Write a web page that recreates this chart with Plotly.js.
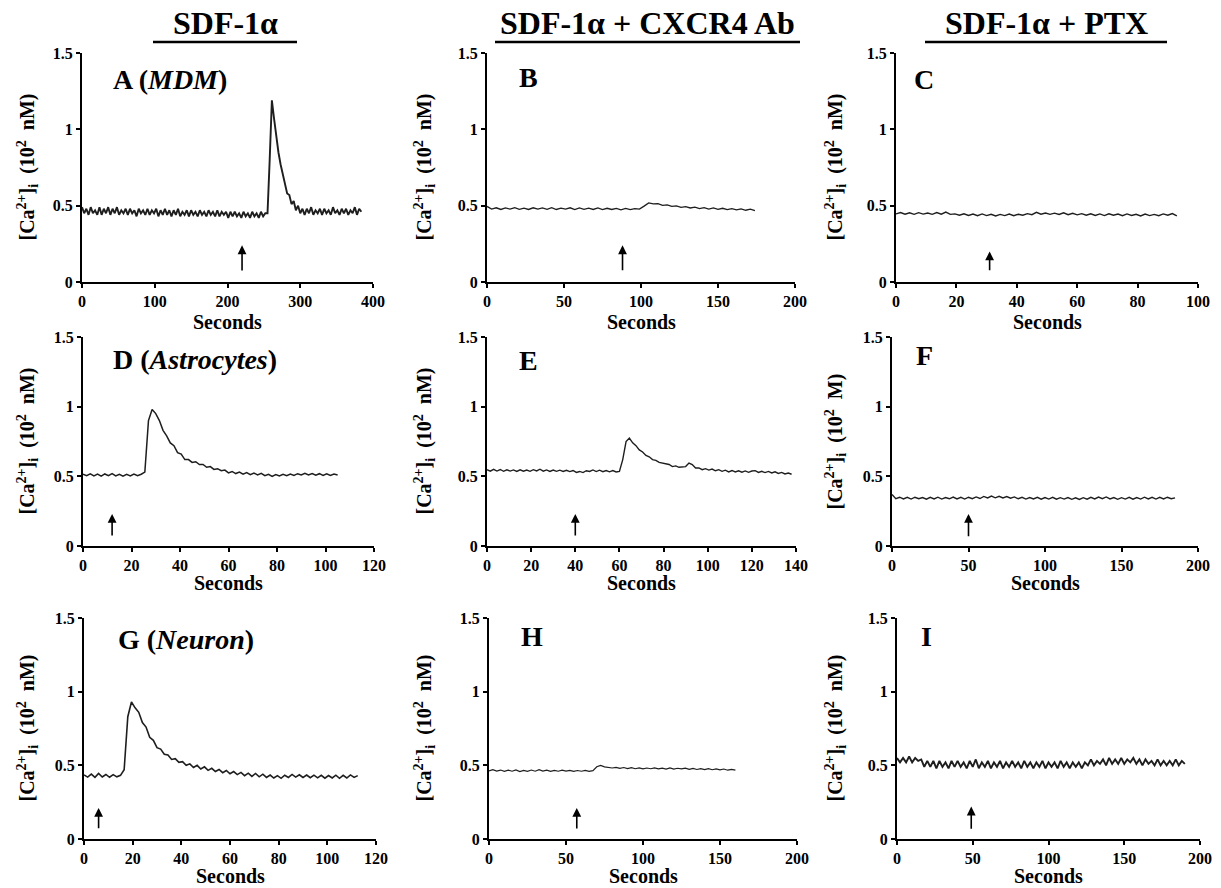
<!DOCTYPE html>
<html><head><meta charset="utf-8">
<script src="https://cdn.plot.ly/plotly-3.0.1.min.js"></script>
<style>html,body{margin:0;padding:0;background:#fff}#chart{width:1221px;height:888px}</style>
</head><body><div id="chart"></div>
<script>
// ---- data ----
const columnTitles = ['SDF-1α', 'SDF-1α + CXCR4 Ab', 'SDF-1α + PTX'];
const panelLabels = ['A (<i>MDM</i>)', 'B', 'C', 'D (<i>Astrocytes</i>)', 'E', 'F', 'G (<i>Neuron</i>)', 'H', 'I'];
const yTitles = [
  '[Ca<sup>2+</sup>]<sub>i</sub>  (10<sup>2</sup>  nM)', '[Ca<sup>2+</sup>]<sub>i</sub>  (10<sup>2</sup>  nM)', '[Ca<sup>2+</sup>]<sub>i</sub>  (10<sup>2</sup>  nM)',
  '[Ca<sup>2+</sup>]<sub>i</sub>  (10<sup>2</sup>  nM)', '[Ca<sup>2+</sup>]<sub>i</sub>  (10<sup>2</sup>  nM)', '[Ca<sup>2+</sup>]<sub>i</sub>  (10<sup>2</sup>  M)',
  '[Ca<sup>2+</sup>]<sub>i</sub>  (10<sup>2</sup>  nM)', '[Ca<sup>2+</sup>]<sub>i</sub>  (10<sup>2</sup>  nM)', '[Ca<sup>2+</sup>]<sub>i</sub>  (10<sup>2</sup>  nM)'
];
const xTitle = 'Seconds';
const xTickVals = [
  [0, 100, 200, 300, 400], [0, 50, 100, 150, 200], [0, 20, 40, 60, 80, 100],
  [0, 20, 40, 60, 80, 100, 120], [0, 20, 40, 60, 80, 100, 120, 140], [0, 50, 100, 150, 200],
  [0, 20, 40, 60, 80, 100, 120], [0, 50, 100, 150, 200], [0, 50, 100, 150, 200]
];
const yTickVals = [0, 0.5, 1, 1.5];
const yTickText = ['0', '0.5', '1', '1.5'];
// sampling of each trace (seconds)
const sampleStart = [0, 0, 0, 0, 0, 0, 0, 0, 0];
const sampleStep = [3, 3, 1.5, 1.5, 1.5, 2.5, 1.5, 2.5, 2];
// stimulus arrows: time, tip value, tail value
const arrowTime = [220, 88, 31, 12, 40, 50, 6, 57, 49];
const arrowTip = [0.24, 0.24, 0.2, 0.23, 0.23, 0.23, 0.21, 0.21, 0.22];
const arrowTail = [0.065, 0.067, 0.067, 0.065, 0.065, 0.06, 0.063, 0.061, 0.06];

const caA = [
  0.49,0.45,0.48,0.44,0.49,0.45,0.47,0.44,0.49,0.44,
  0.48,0.45,0.49,0.44,0.48,0.45,0.49,0.44,0.47,0.45,
  0.48,0.44,0.48,0.45,0.47,0.43,0.48,0.45,0.47,0.44,
  0.48,0.44,0.47,0.45,0.48,0.43,0.47,0.44,0.48,0.44,
  0.47,0.43,0.47,0.44,0.48,0.43,0.46,0.44,0.47,0.43,
  0.47,0.44,0.46,0.43,0.47,0.44,0.46,0.43,0.47,0.44,
  0.46,0.43,0.47,0.43,0.46,0.44,0.46,0.42,0.46,0.43,
  0.46,0.43,0.45,0.42,0.46,0.43,0.45,0.42,0.46,0.43,
  0.45,0.42,0.46,0.43,0.45,
  0.45,0.80,1.19,1.07,0.94,0.85,0.77,0.70,0.64,0.58,0.57,0.51,0.53,0.47,0.50,0.45,
  0.48,0.44,0.48,0.45,0.49,0.44,0.47,0.45,0.48,0.44,0.48,0.45,0.47,0.44,
  0.49,0.45,0.47,0.44,0.48,0.45,0.48,0.44,0.47,0.45,0.49,0.44,0.48,0.46
];
const caB = [
  0.495,0.478,0.486,0.475,0.485,0.477,0.487,0.476,0.484,0.475,
  0.486,0.477,0.485,0.476,0.487,0.475,0.484,0.477,0.486,0.474,
  0.485,0.476,0.484,0.475,0.485,0.474,0.483,0.475,0.482,0.473,
  0.482,0.474,0.481,0.478,0.497,0.518,0.512,0.513,0.502,0.505,
  0.495,0.499,0.489,0.494,0.485,0.490,0.481,0.487,0.478,0.485,
  0.476,0.483,0.474,0.481,0.472,0.479,0.470,0.477,0.468
];
const caC = [
  0.446,0.455,0.444,0.453,0.443,0.454,0.445,0.452,0.443,0.455,
  0.444,0.458,0.443,0.446,0.437,0.447,0.436,0.445,0.434,0.446,
  0.435,0.444,0.433,0.443,0.435,0.445,0.434,0.444,0.437,0.448,
  0.441,0.456,0.444,0.452,0.443,0.451,0.442,0.453,0.441,0.450,
  0.440,0.448,0.437,0.447,0.436,0.446,0.435,0.447,0.437,0.445,
  0.434,0.446,0.436,0.444,0.433,0.445,0.435,0.443,0.434,0.446,
  0.437,0.448,0.433
];
const caD = [
  0.515,0.505,0.518,0.503,0.516,0.502,0.517,0.505,0.519,0.503,
  0.515,0.501,0.514,0.503,0.516,0.504,0.515,
  0.53,0.90,0.98,0.95,0.90,0.83,0.79,0.74,0.72,0.67,
  0.66,0.62,0.62,0.60,0.605,0.585,0.585,0.565,0.57,0.55,
  0.555,0.54,0.545,0.525,0.535,0.52,0.53,0.515,0.527,0.512,
  0.524,0.51,0.522,0.505,0.515,0.50,0.512,0.502,0.514,0.505,
  0.517,0.507,0.519,0.51,0.522,0.51,0.52,0.508,0.519,0.507,
  0.518,0.507,0.517,0.51
];
const caE = [
  0.548,0.537,0.550,0.538,0.549,0.536,0.547,0.538,0.546,0.535,
  0.547,0.537,0.545,0.536,0.548,0.539,0.551,0.537,0.546,0.535,
  0.545,0.536,0.544,0.535,0.543,0.534,0.542,0.528,0.535,0.527,
  0.540,0.535,0.546,0.534,0.544,0.533,0.542,0.532,0.541,0.531,
  0.535,0.62,0.75,0.775,0.74,0.72,0.69,0.675,0.65,0.64,
  0.62,0.615,0.60,0.595,0.585,0.585,0.57,0.575,0.565,0.57,
  0.57,0.595,0.585,0.56,0.56,0.548,0.555,0.545,0.552,0.54,
  0.548,0.536,0.544,0.532,0.542,0.531,0.54,0.53,0.539,0.529,
  0.538,0.541,0.528,0.536,0.527,0.535,0.524,0.532,0.521,0.528,
  0.517,0.524,0.515
];
const caF = [
  0.370,0.340,0.350,0.338,0.349,0.337,0.350,0.339,0.348,0.336,
  0.349,0.338,0.350,0.337,0.348,0.339,0.351,0.338,0.349,0.337,
  0.350,0.340,0.352,0.341,0.356,0.345,0.358,0.346,0.357,0.345,
  0.355,0.343,0.352,0.339,0.349,0.337,0.348,0.338,0.349,0.336,
  0.348,0.337,0.349,0.336,0.347,0.337,0.348,0.335,0.346,0.334,
  0.347,0.336,0.349,0.338,0.351,0.340,0.352,0.338,0.348,0.335,
  0.347,0.337,0.349,0.336,0.348,0.337,0.350,0.338,0.349,0.337,
  0.349,0.338,0.350,0.339,0.345
];
const caG = [
  0.435,0.420,0.440,0.418,0.445,0.421,0.438,0.419,0.437,0.422,0.432,
  0.47,0.83,0.93,0.89,0.86,0.79,0.76,0.69,0.67,0.62,
  0.61,0.575,0.57,0.54,0.545,0.52,0.525,0.50,0.51,0.485,
  0.50,0.475,0.49,0.466,0.48,0.458,0.472,0.45,0.465,0.443,
  0.458,0.437,0.452,0.43,0.447,0.425,0.445,0.422,0.44,0.418,
  0.434,0.414,0.43,0.412,0.433,0.418,0.438,0.42,0.436,0.418,
  0.434,0.416,0.433,0.415,0.432,0.413,0.431,0.414,0.433,0.412,
  0.432,0.414,0.435,0.418,0.43
];
const caH = [
  0.462,0.470,0.461,0.468,0.459,0.467,0.460,0.469,0.458,0.466,
  0.459,0.468,0.460,0.470,0.461,0.467,0.459,0.466,0.460,0.467,
  0.461,0.466,0.459,0.465,0.460,0.466,0.459,0.464,
  0.49,0.50,0.49,0.488,0.482,0.486,0.479,0.485,0.478,0.484,
  0.477,0.483,0.476,0.482,0.477,0.483,0.476,0.481,0.475,0.482,
  0.474,0.48,0.476,0.481,0.473,0.479,0.472,0.478,0.471,0.477,
  0.47,0.476,0.469,0.475,0.467,0.473,0.468
];
const caI = [
  0.55,0.52,0.55,0.52,0.56,0.52,0.55,0.53,0.54,0.49,
  0.53,0.49,0.53,0.48,0.53,0.49,0.52,0.48,0.53,0.49,
  0.53,0.49,0.52,0.48,0.53,0.49,0.54,0.48,0.52,0.49,
  0.53,0.48,0.52,0.49,0.53,0.48,0.52,0.49,0.53,0.49,
  0.52,0.48,0.53,0.49,0.52,0.48,0.52,0.49,0.53,0.48,
  0.52,0.49,0.52,0.48,0.53,0.49,0.52,0.48,0.52,0.49,
  0.52,0.48,0.52,0.50,0.54,0.50,0.53,0.51,0.54,0.50,
  0.55,0.51,0.54,0.51,0.55,0.51,0.54,0.52,0.55,0.51,
  0.54,0.50,0.54,0.51,0.53,0.50,0.54,0.50,0.53,0.50,
  0.53,0.50,0.54,0.50,0.53,0.51
];
const series = [caA, caB, caC, caD, caE, caF, caG, caH, caI];

// ---- styles and layout (pixel boxes of each panel: left, right, top, bottom) ----
const lineWidths = [1.9, 1.3, 1.4, 1.5, 1.4, 1.4, 1.6, 1.2, 1.9];
const W = 1221, H = 888;
const boxes = [
  [82, 373, 53, 282], [487, 795, 53, 282], [896, 1198, 53, 282],
  [83, 374, 337, 546], [487, 796, 337, 546], [892, 1198, 337, 546],
  [84, 376, 618, 839], [489, 797, 618, 839], [897, 1200, 618, 839]
];
const px = p => p / W;
const py = p => 1 - p / H;
const serif = 'Liberation Serif, Times New Roman, serif';
const tickFont = {family: serif, size: 16, color: '#000', weight: 700};
const bold = s => '<b>' + s + '</b>';

const data = [];
const layout = {
  width: W, height: H, margin: {l: 0, r: 0, t: 0, b: 0},
  paper_bgcolor: '#fff', plot_bgcolor: 'rgba(0,0,0,0)',
  showlegend: false, annotations: [], shapes: [],
  font: {family: serif, color: '#000'}
};

const labelPos = [[111, 80], [517, 78], [912, 79], [111, 359], [517, 360], [914, 355], [116, 639], [519, 636], [919, 636]];
const ytitleX = [27, 424, 835];
const xtitleOffset = [40, 37, 37];

series.forEach((vals, i) => {
  const k = i === 0 ? '' : String(i + 1);
  const b = boxes[i];
  data.push({
    type: 'scatter', mode: 'lines', y: vals, x0: sampleStart[i], dx: sampleStep[i],
    xaxis: 'x' + k, yaxis: 'y' + k,
    line: {color: '#1e1e1e', width: lineWidths[i]}, hoverinfo: 'skip'
  });
  const xv = xTickVals[i];
  layout['xaxis' + k] = {
    domain: [px(b[0]), px(b[1])], anchor: 'y' + k, range: [0, xv[xv.length - 1]],
    tickvals: xv, ticktext: xv.map(v => bold(v)), showgrid: false, zeroline: false,
    showline: true, linecolor: '#000', linewidth: 2,
    ticks: 'outside', ticklen: 4, tickwidth: 2, tickcolor: '#000',
    tickfont: tickFont, fixedrange: true
  };
  layout['yaxis' + k] = {
    domain: [py(b[3]), py(b[2])], anchor: 'x' + k, range: [0, 1.5],
    tickvals: yTickVals, ticktext: yTickText.map(bold), showgrid: false, zeroline: false,
    showline: true, linecolor: '#000', linewidth: 2,
    ticks: 'outside', ticklen: 4, tickwidth: 2, tickcolor: '#000',
    tickfont: tickFont, fixedrange: true
  };
  const row = Math.floor(i / 3), col = i % 3;
  layout.annotations.push({
    xref: 'paper', yref: 'paper', x: px(labelPos[i][0]), y: py(labelPos[i][1]),
    xanchor: 'left', yanchor: 'middle', showarrow: false,
    text: bold(panelLabels[i]), font: {family: serif, size: 28, color: '#000'}
  });
  layout.annotations.push({
    xref: 'paper', yref: 'paper', x: px(ytitleX[col]), y: py((b[2] + b[3]) / 2),
    xanchor: 'center', yanchor: 'middle', showarrow: false, textangle: -90,
    text: bold(yTitles[i]), font: {family: serif, size: 20, color: '#000'}
  });
  layout.annotations.push({
    xref: 'paper', yref: 'paper', x: px((b[0] + b[1]) / 2), y: py(b[3] + xtitleOffset[row]),
    xanchor: 'center', yanchor: 'middle', showarrow: false,
    text: bold(xTitle), font: {family: serif, size: 20, color: '#000'}
  });
  layout.annotations.push({
    xref: 'x' + k, yref: 'y' + k, axref: 'x' + k, ayref: 'y' + k,
    x: arrowTime[i], y: arrowTip[i], ax: arrowTime[i], ay: arrowTail[i],
    text: '', showarrow: true, arrowhead: 2, arrowsize: 1.1, arrowwidth: 1.6, arrowcolor: '#000'
  });
});

const headerCenters = [225, 648, 1046];
const underline = [[153, 297], [495, 800], [925, 1167]];
columnTitles.forEach((t, c) => {
  layout.annotations.push({
    xref: 'paper', yref: 'paper', x: px(headerCenters[c]), y: py(23),
    xanchor: 'center', yanchor: 'middle', showarrow: false,
    text: bold(t), font: {family: serif, size: 32, color: '#000'}
  });
  layout.shapes.push({
    type: 'line', xref: 'paper', yref: 'paper',
    x0: px(underline[c][0]), x1: px(underline[c][1]), y0: py(42), y1: py(42),
    line: {color: '#000', width: 2.5}
  });
});

Plotly.newPlot('chart', data, layout, {staticPlot: true, displayModeBar: false});
</script>
</body></html>
